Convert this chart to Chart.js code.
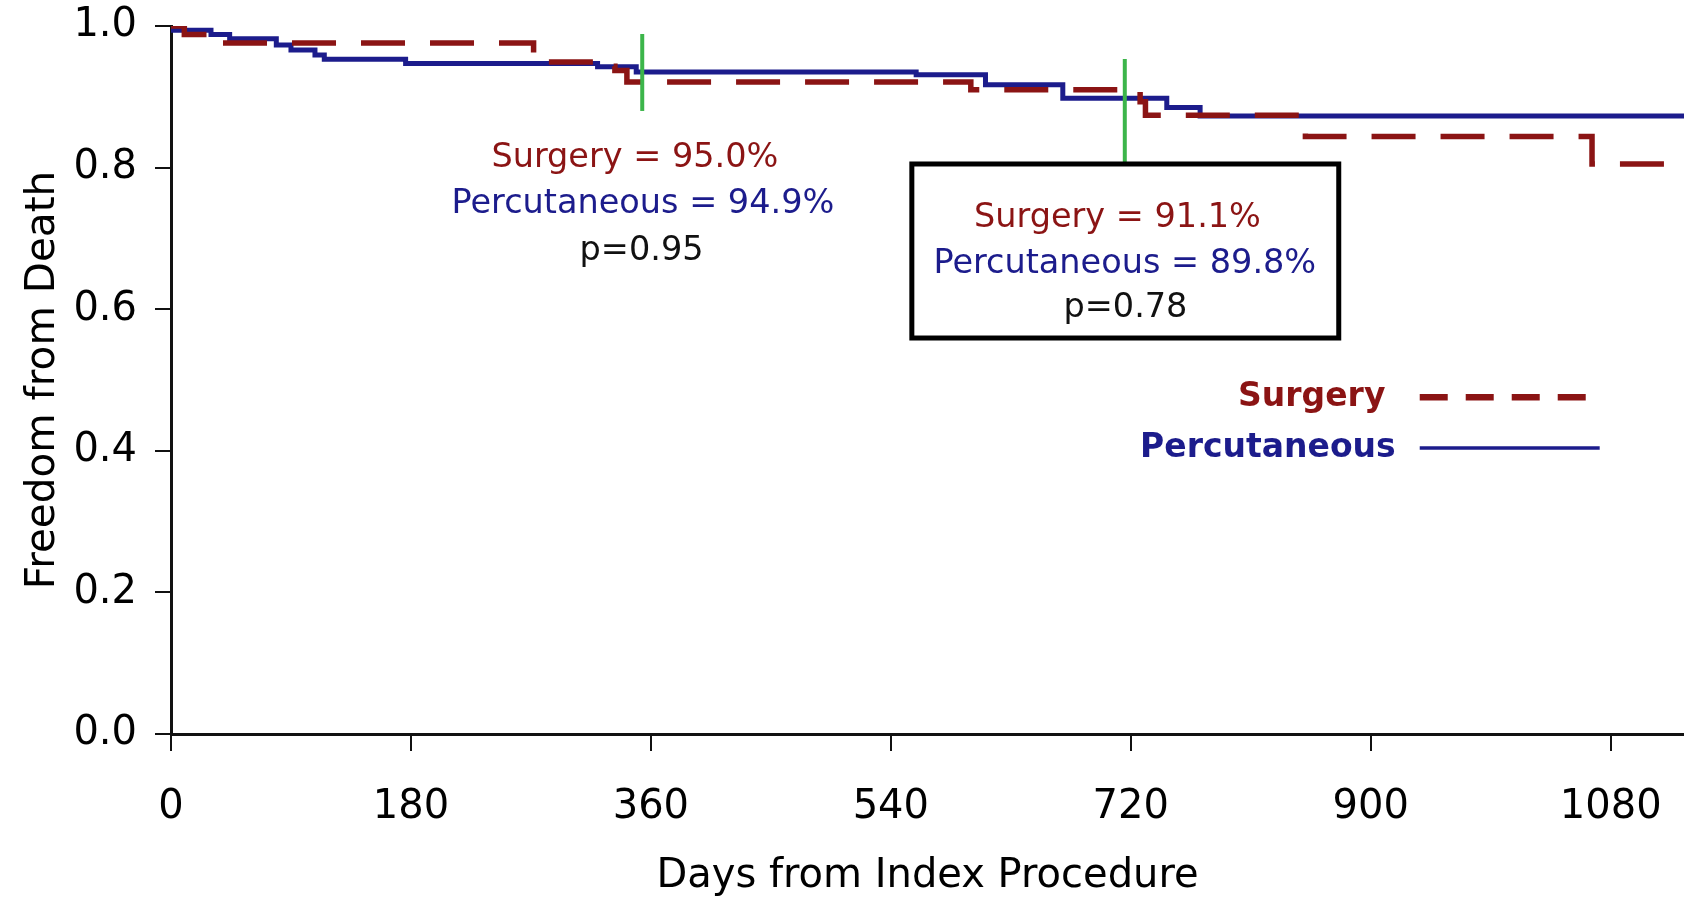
<!DOCTYPE html>
<html><head><meta charset="utf-8">
<script src="https://cdn.jsdelivr.net/npm/chart.js@4/dist/chart.umd.min.js"></script>
<style>html,body{margin:0;padding:0;background:#fff;overflow:hidden}#wrap{width:1684px;height:898px}</style>
</head><body><div id="wrap"><canvas id="c" width="1684" height="898"></canvas></div>
<script>
// ---- data ----
const seriesNames = ['Surgery', 'Percutaneous'];
const surgeryDays = [0, 10, 30, 272, 320, 333, 342, 600, 727, 731, 851, 1066, 1135];
const surgeryFree = [1.0, 0.988, 0.976, 0.949, 0.943, 0.937, 0.921, 0.910, 0.893, 0.874, 0.844, 0.805, 0.805];
const percDays = [0, 1, 30, 44, 79, 90, 108, 115, 176, 320, 349, 559, 611, 669, 747, 772, 1135];
const percFree = [1.0, 0.994, 0.988, 0.982, 0.973, 0.966, 0.959, 0.953, 0.947, 0.9425, 0.935, 0.931, 0.917, 0.898, 0.885, 0.873, 0.873];
const xTicks = [0, 180, 360, 540, 720, 900, 1080];
const yTicks = [0.0, 0.2, 0.4, 0.6, 0.8, 1.0];
const markerDays = [353.5, 715.5];
const annotation1 = ['Surgery = 95.0%', 'Percutaneous = 94.9%', 'p=0.95'];
const annotation2 = ['Surgery = 91.1%', 'Percutaneous = 89.8%', 'p=0.78'];

// ---- styles / placement (data units) ----
const RED = '#8b1414', BLUE = '#1c1c8c', GREEN = '#3cb54a';
const FONT = '"DejaVu Sans", Verdana, sans-serif';
const markerSpans = [[0.9887, 0.880], [0.9534, 0.8051]];
const ann1Pos = {days: [348, 354, 353], ys: [0.8134, 0.7484, 0.6824]};
const ann2Pos = {days: [710, 715.5, 716], ys: [0.7286, 0.6637, 0.6018]};
const box2 = {d0: 555.75, d1: 876, v0: 0.8051, v1: 0.5593};
const legendPos = {textDay: [911, 918.75], ys: [0.4758, 0.4038], line0: 936.75, line1: [1062, 1071.75]};

const toXY = (ds, vs) => ds.map((d, i) => ({x: d, y: vs[i]}));

const overlay = {
  id: 'overlay',
  afterDatasetsDraw(chart) {
    const {ctx, scales: {x, y}} = chart;
    ctx.save();
    // green markers
    ctx.strokeStyle = GREEN; ctx.lineWidth = 4; ctx.lineCap = 'butt';
    markerDays.forEach((d, i) => {
      const px = x.getPixelForValue(d);
      ctx.beginPath();
      ctx.moveTo(px, y.getPixelForValue(markerSpans[i][0]));
      ctx.lineTo(px, y.getPixelForValue(markerSpans[i][1]));
      ctx.stroke();
    });
    // box
    const bx0 = x.getPixelForValue(box2.d0), bx1 = x.getPixelForValue(box2.d1);
    const by0 = y.getPixelForValue(box2.v0), by1 = y.getPixelForValue(box2.v1);
    ctx.fillStyle = '#fff'; ctx.fillRect(bx0, by0, bx1 - bx0, by1 - by0);
    ctx.strokeStyle = '#000'; ctx.lineWidth = 5;
    ctx.strokeRect(bx0, by0, bx1 - bx0, by1 - by0);
    // annotation texts
    ctx.font = '33.5px ' + FONT; ctx.textAlign = 'center'; ctx.textBaseline = 'middle';
    const cols = [RED, BLUE, '#111'];
    [[annotation1, ann1Pos], [annotation2, ann2Pos]].forEach(([txt, pos]) => {
      txt.forEach((t, i) => {
        ctx.fillStyle = cols[i];
        ctx.fillText(t, x.getPixelForValue(pos.days[i]), y.getPixelForValue(pos.ys[i]));
      });
    });
    // legend
    ctx.font = 'bold 33px ' + FONT; ctx.textAlign = 'right';
    const lcols = [RED, BLUE];
    seriesNames.forEach((n, i) => {
      const py = y.getPixelForValue(legendPos.ys[i]);
      ctx.fillStyle = lcols[i];
      ctx.fillText(n, x.getPixelForValue(legendPos.textDay[i]), py);
      ctx.strokeStyle = lcols[i];
      ctx.lineWidth = i === 0 ? 6.5 : 3.5;
      ctx.setLineDash(i === 0 ? [28, 18] : []);
      ctx.beginPath();
      ctx.moveTo(x.getPixelForValue(legendPos.line0), py);
      ctx.lineTo(x.getPixelForValue(legendPos.line1[i]), py);
      ctx.stroke();
    });
    ctx.setLineDash([]);
    ctx.restore();
  }
};

new Chart(document.getElementById('c'), {
  type: 'line',
  data: {
    datasets: [
      {label: seriesNames[0], data: toXY(surgeryDays, surgeryFree), borderColor: RED, borderWidth: 5.5,
       borderDash: [44, 25], stepped: true, pointRadius: 0, fill: false},
      {label: seriesNames[1], data: toXY(percDays, percFree), borderColor: BLUE, borderWidth: 5,
       stepped: true, pointRadius: 0, fill: false}
    ]
  },
  options: {
    responsive: false, animation: false, devicePixelRatio: 1,
    layout: {padding: {top: 26, right: 0, left: 0, bottom: 0}},
    plugins: {legend: {display: false}, tooltip: {enabled: false}},
    scales: {
      x: {
        type: 'linear', min: 0, max: 1135,
        afterBuildTicks: s => { s.ticks = xTicks.map(v => ({value: v})); },
        afterFit: s => { s.height = 164; s.paddingLeft = 0; s.paddingRight = 0; },
        grid: {display: true, drawOnChartArea: false, drawTicks: true, tickLength: 17, color: '#111', lineWidth: 2},
        border: {display: true, color: '#111', width: 3},
        ticks: {color: '#000', font: {family: FONT, size: 40}, padding: 33, maxRotation: 0, autoSkip: false,
                callback: v => String(v)},
        title: {display: true, text: 'Days from Index Procedure', color: '#000',
                font: {family: FONT, size: 40, lineHeight: 1}, padding: {top: 0, bottom: 1}}
      },
      y: {
        type: 'linear', min: 0, max: 1,
        afterBuildTicks: s => { s.ticks = yTicks.map(v => ({value: v})); },
        afterFit: s => { s.width = 171; s.paddingTop = 0; s.paddingBottom = 0; },
        grid: {display: true, drawOnChartArea: false, drawTicks: true, tickLength: 16, color: '#111', lineWidth: 2},
        border: {display: true, color: '#111', width: 3},
        ticks: {color: '#000', font: {family: FONT, size: 40}, padding: 18, callback: v => Number(v).toFixed(1)},
        title: {display: true, text: 'Freedom from Death', color: '#000',
                font: {family: FONT, size: 40.5, lineHeight: 1}, padding: {top: 23, bottom: 0}}
      }
    }
  },
  plugins: [overlay]
});
</script></body></html>
